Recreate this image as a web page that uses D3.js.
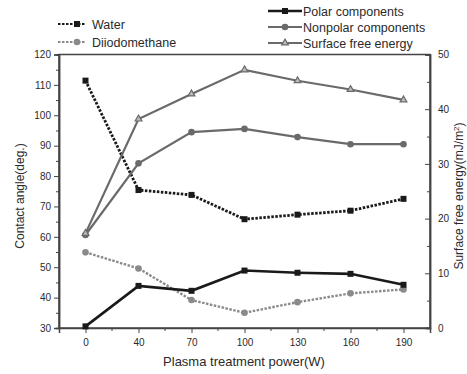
<!DOCTYPE html>
<html>
<head>
<meta charset="utf-8">
<script src="https://cdn.jsdelivr.net/npm/d3@7"></script>
<style>
  body { margin: 0; background: #fff; }
  text { font-family: "Liberation Sans", Arial, sans-serif; fill: #2a2a2a; }
</style>
</head>
<body>
<div id="chart"></div>
<script>
const powers = ["0", "40", "70", "100", "130", "160", "190"];
const water = [111.4, 75.4, 73.8, 65.8, 67.3, 68.6, 72.5];
const diiodomethane = [54.9, 49.6, 39.2, 35.0, 38.5, 41.4, 42.7];
const polar = [0.3, 7.7, 6.8, 10.5, 10.1, 9.9, 7.9];
const nonpolar = [17.0, 30.1, 35.8, 36.4, 34.9, 33.6, 33.6];
const surfaceEnergy = [17.3, 38.2, 42.8, 47.2, 45.2, 43.6, 41.7];

const width = 467, height = 374;
const m = { left: 59, right: 430, top: 54.5, bottom: 328 };

const svg = d3.select("#chart").append("svg")
  .attr("width", width).attr("height", height);

const x = d3.scalePoint().domain(powers).range([m.left, m.right]).padding(0.5);
const yL = d3.scaleLinear().domain([30, 120]).range([m.bottom, m.top]);
const yR = d3.scaleLinear().domain([0, 50]).range([m.bottom, m.top]);

// frame
svg.append("rect")
  .attr("x", m.left).attr("y", m.top)
  .attr("width", m.right - m.left).attr("height", m.bottom - m.top)
  .attr("fill", "none").attr("stroke", "#444").attr("stroke-width", 1.5);

// left axis
svg.append("g").attr("transform", `translate(${m.left},0)`)
  .call(d3.axisLeft(yL).tickValues(d3.range(30, 121, 10)).tickSize(5).tickPadding(3));
svg.append("g").attr("transform", `translate(${m.left},0)`)
  .call(d3.axisLeft(yL).tickValues(d3.range(35, 120, 10)).tickSize(3).tickFormat(""));

// right axis, ticks inside
svg.append("g").attr("transform", `translate(${m.right},0)`)
  .call(d3.axisRight(yR).tickValues(d3.range(0, 51, 10)).tickSize(-5).tickPadding(8));
svg.append("g").attr("transform", `translate(${m.right},0)`)
  .call(d3.axisRight(yR).tickValues(d3.range(5, 50, 10)).tickSize(-3).tickFormat(""));

// bottom axis
svg.append("g").attr("transform", `translate(0,${m.bottom})`)
  .call(d3.axisBottom(x).tickSize(5).tickPadding(6));
const step = x.step();
svg.append("g").attr("transform", `translate(0,${m.bottom})`)
  .selectAll("line").data(powers.slice(0, -1)).join("line")
  .attr("x1", d => x(d) + step / 2).attr("x2", d => x(d) + step / 2)
  .attr("y1", 0).attr("y2", 3).attr("stroke", "#444");

svg.selectAll(".domain").attr("stroke", "#444").attr("stroke-width", 1.5);
svg.selectAll(".tick line").attr("stroke", "#444");
svg.selectAll(".tick text").style("font-size", "10px")
  .style("font-family", "Liberation Sans, Arial, sans-serif").attr("fill", "#333");

// axis titles
svg.append("text").attr("x", 244).attr("y", 366)
  .attr("text-anchor", "middle").style("font-size", "13px")
  .text("Plasma treatment power(W)");
svg.append("text").attr("transform", `translate(24,196) rotate(-90)`)
  .attr("text-anchor", "middle").style("font-size", "12px")
  .text("Contact angle(deg.)");
svg.append("text").attr("transform", `translate(463,196) rotate(-90)`)
  .attr("text-anchor", "middle").style("font-size", "12px")
  .html("Surface free energy(mJ/m<tspan dy='-4' font-size='8px'>2</tspan><tspan dy='4'>)</tspan>");

const series = [
  { name: "Water", vals: water, y: yL, color: "#1a1a1a", dash: "2.5,1.5", w: 2.8, shape: "square" },
  { name: "Diiodomethane", vals: diiodomethane, y: yL, color: "#8a8a8a", dash: "2.5,1.5", w: 2.4, shape: "circle" },
  { name: "Polar components", vals: polar, y: yR, color: "#1a1a1a", dash: null, w: 2.6, shape: "square" },
  { name: "Nonpolar components", vals: nonpolar, y: yR, color: "#6a6a6a", dash: null, w: 2.2, shape: "circle" },
  { name: "Surface free energy", vals: surfaceEnergy, y: yR, color: "#6a6a6a", dash: null, w: 2.2, shape: "triangle" }
];

function marker(g, s, cx, cy) {
  if (s.shape === "square") {
    g.append("rect").attr("x", cx - 3).attr("y", cy - 3).attr("width", 6).attr("height", 6)
      .attr("fill", s.color);
  } else if (s.shape === "circle") {
    g.append("circle").attr("cx", cx).attr("cy", cy).attr("r", 3.3).attr("fill", s.color);
  } else {
    g.append("path").attr("d", d3.symbol(d3.symbolTriangle, 20)())
      .attr("transform", `translate(${cx},${cy})`).attr("fill", "#bbb")
      .attr("stroke", s.color).attr("stroke-width", 1.2);
  }
}

series.forEach(s => {
  const line = d3.line().x((d, i) => x(powers[i])).y(d => s.y(d));
  svg.append("path").datum(s.vals).attr("d", line)
    .attr("fill", "none").attr("stroke", s.color).attr("stroke-width", s.w)
    .attr("stroke-dasharray", s.dash);
  const g = svg.append("g");
  s.vals.forEach((v, i) => marker(g, s, x(powers[i]), s.y(v)));
});

// legends
function legendItem(s, x0, x1, ty, tx) {
  const g = svg.append("g");
  g.append("line").attr("x1", x0).attr("x2", x1).attr("y1", ty).attr("y2", ty)
    .attr("stroke", s.color).attr("stroke-width", s.dash ? 2 : s.w).attr("stroke-dasharray", s.dash);
  marker(g, s, (x0 + x1) / 2 + (s.dash ? 5 : 0), ty);
  g.append("text").attr("x", tx).attr("y", ty + 4.5).style("font-size", "12.5px").text(s.name);
}
legendItem(series[0], 58, 86, 24, 92);
legendItem(series[1], 58, 86, 42, 92);
legendItem(series[2], 268, 302, 11, 303);
legendItem(series[3], 268, 302, 27, 303);
legendItem(series[4], 268, 302, 43, 303);
</script>
</body>
</html>
